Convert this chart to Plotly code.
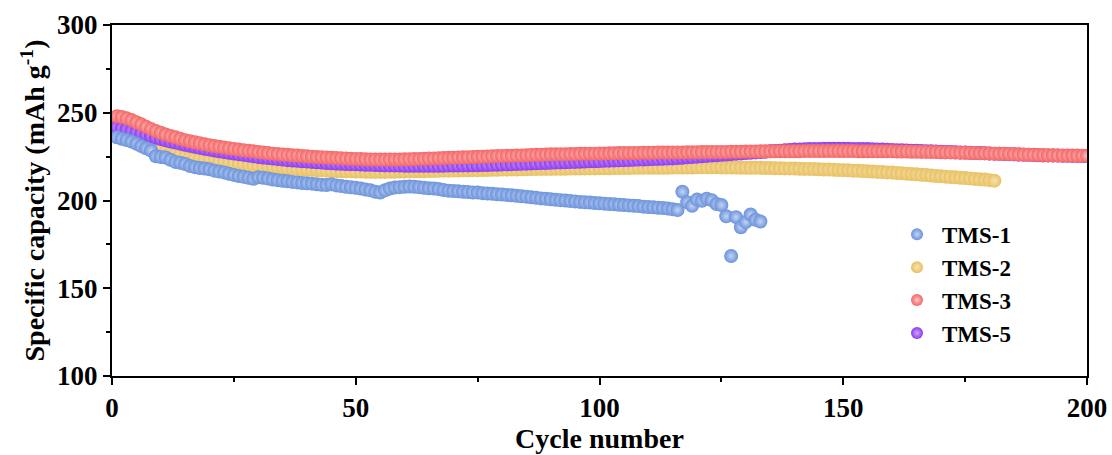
import plotly.graph_objects as go

# Specific capacity (mAh g^-1) per cycle for each sample
tms1_capacity = [
    236.0, 235.2, 234.5, 233.6, 232.4, 231.0, 229.8, 228.5, 225.2, 224.8,
    224.5, 223.2, 222.0, 221.5, 220.8, 219.6, 219.0, 218.5, 218.2, 217.8,
    217.0, 216.5, 216.0, 215.2, 214.6, 214.0, 213.5, 213.0, 212.4, 213.2,
    213.0, 212.5, 212.0, 211.6, 211.2, 211.0, 210.6, 210.3, 210.0, 209.8,
    209.6, 209.3, 209.0, 208.8, 209.2, 208.6, 208.2, 207.8, 207.5, 207.2,
    206.8, 206.3, 205.8, 205.0, 204.6, 205.8, 206.8, 207.4, 207.6, 207.8,
    208.0, 207.8, 207.6, 207.3, 207.0, 206.8, 206.5, 206.0, 205.6, 205.4,
    205.2, 205.0, 204.8, 204.6, 204.5, 204.2, 204.0, 203.8, 203.6, 203.4,
    203.2, 203.0, 202.7, 202.4, 202.2, 201.8, 201.5, 201.2, 201.0, 200.7,
    200.4, 200.2, 200.0, 199.7, 199.5, 199.2, 199.0, 198.8, 198.6, 198.4,
    198.2, 198.0, 197.8, 197.6, 197.4, 197.2, 197.0, 196.8, 196.5, 196.3,
    196.1, 195.9, 195.7, 195.4, 195.0, 194.6, 205.0, 199.0, 197.0, 200.5,
    199.8, 201.0, 200.2, 198.0, 197.4, 191.0, 168.4, 190.5, 184.8, 187.7,
    192.0, 189.0, 188.0,
]

tms2_capacity = [
    240.5, 239.0, 237.6, 236.2, 235.0, 233.8, 232.6, 231.4, 230.2, 229.2,
    228.3, 227.5, 226.8, 226.0, 225.4, 224.8, 224.3, 223.8, 223.4, 223.0,
    222.6, 222.2, 221.8, 221.5, 221.1, 220.8, 220.5, 220.2, 219.9, 219.7,
    219.4, 219.2, 219.0, 218.8, 218.6, 218.4, 218.2, 218.0, 217.8, 217.6,
    217.5, 217.3, 217.2, 217.0, 216.9, 216.8, 216.7, 216.6, 216.6, 216.5,
    216.5, 216.4, 216.4, 216.3, 216.3, 216.3, 216.4, 216.4, 216.5, 216.5,
    216.6, 216.6, 216.7, 216.7, 216.8, 216.8, 216.9, 217.0, 217.0, 217.1,
    217.1, 217.2, 217.2, 217.3, 217.3, 217.4, 217.4, 217.5, 217.5, 217.6,
    217.6, 217.7, 217.7, 217.8, 217.8, 217.9, 217.9, 218.0, 218.0, 218.0,
    218.1, 218.1, 218.1, 218.2, 218.2, 218.2, 218.3, 218.3, 218.3, 218.4,
    218.4, 218.4, 218.5, 218.5, 218.5, 218.5, 218.6, 218.6, 218.6, 218.6,
    218.7, 218.7, 218.7, 218.7, 218.8, 218.8, 218.8, 218.8, 218.8, 218.9,
    218.9, 218.9, 218.9, 218.9, 218.8, 218.8, 218.8, 218.8, 218.7, 218.7,
    218.7, 218.6, 218.6, 218.5, 218.5, 218.4, 218.4, 218.3, 218.3, 218.2,
    218.1, 218.0, 218.0, 217.9, 217.8, 217.7, 217.6, 217.5, 217.4, 217.3,
    217.2, 217.0, 216.9, 216.8, 216.6, 216.5, 216.3, 216.2, 216.0, 215.9,
    215.7, 215.5, 215.3, 215.1, 214.9, 214.7, 214.5, 214.2, 214.0, 213.8,
    213.6, 213.4, 213.2, 213.0, 212.8, 212.6, 212.3, 212.1, 211.9, 211.6,
    211.3,
]

tms3_capacity = [
    248.0, 247.6, 246.8, 245.8, 244.6, 243.4, 242.0, 240.8, 239.6, 238.6,
    237.6, 236.8, 236.0, 235.2, 234.4, 233.8, 233.2, 232.6, 232.0, 231.5,
    231.0, 230.6, 230.2, 229.8, 229.4, 229.0, 228.6, 228.3, 228.0, 227.6,
    227.3, 227.0, 226.7, 226.5, 226.2, 226.0, 225.8, 225.6, 225.4, 225.2,
    225.0, 224.8, 224.7, 224.5, 224.4, 224.2, 224.1, 224.0, 223.8, 223.7,
    223.6, 223.5, 223.4, 223.4, 223.3, 223.3, 223.3, 223.4, 223.4, 223.5,
    223.5, 223.6, 223.7, 223.8, 223.9, 224.0, 224.1, 224.2, 224.3, 224.4,
    224.5, 224.6, 224.7, 224.8, 224.9, 225.0, 225.1, 225.2, 225.3, 225.4,
    225.5, 225.5, 225.6, 225.7, 225.8, 225.9, 226.0, 226.1, 226.2, 226.3,
    226.3, 226.4, 226.4, 226.5, 226.5, 226.6, 226.6, 226.7, 226.7, 226.8,
    226.8, 226.9, 226.9, 227.0, 227.0, 227.1, 227.1, 227.1, 227.2, 227.2,
    227.2, 227.3, 227.3, 227.3, 227.4, 227.4, 227.4, 227.5, 227.5, 227.5,
    227.6, 227.6, 227.6, 227.7, 227.7, 227.7, 227.8, 227.8, 227.8, 227.9,
    227.9, 227.9, 228.0, 228.0, 228.0, 228.0, 228.1, 228.1, 228.1, 228.1,
    228.1, 228.2, 228.2, 228.2, 228.2, 228.2, 228.2, 228.2, 228.2, 228.2,
    228.2, 228.2, 228.1, 228.1, 228.1, 228.1, 228.1, 228.0, 228.0, 228.0,
    227.9, 227.9, 227.9, 227.8, 227.8, 227.7, 227.7, 227.6, 227.6, 227.5,
    227.4, 227.4, 227.3, 227.2, 227.2, 227.1, 227.0, 226.9, 226.9, 226.8,
    226.7, 226.6, 226.6, 226.5, 226.4, 226.3, 226.2, 226.1, 226.0, 225.9,
    225.9, 225.8, 225.8, 225.7, 225.7, 225.6, 225.6, 225.6, 225.5, 225.5,
]

tms5_capacity = [
    242.0, 241.4, 240.6, 239.8, 239.0, 238.2, 237.4, 236.6, 235.8, 235.0,
    234.3, 233.6, 233.0, 232.4, 231.8, 231.2, 230.6, 230.0, 229.5, 229.0,
    228.5, 228.0, 227.6, 227.2, 226.8, 226.4, 226.0, 225.6, 225.2, 224.8,
    224.5, 224.2, 223.9, 223.6, 223.3, 223.0, 222.8, 222.6, 222.4, 222.2,
    222.0, 221.8, 221.6, 221.4, 221.2, 221.0, 220.9, 220.8, 220.7, 220.6,
    220.5, 220.4, 220.3, 220.2, 220.1, 220.0, 220.0, 219.9, 219.9, 219.8,
    219.8, 219.8, 219.8, 219.8, 219.8, 219.8, 219.8, 219.8, 219.9, 219.9,
    219.9, 220.0, 220.0, 220.1, 220.1, 220.2, 220.2, 220.3, 220.4, 220.5,
    220.6, 220.7, 220.8, 220.9, 221.0, 221.1, 221.2, 221.3, 221.4, 221.5,
    221.6, 221.7, 221.8, 221.9, 222.0, 222.1, 222.2, 222.3, 222.4, 222.5,
    222.6, 222.7, 222.8, 222.9, 223.0, 223.1, 223.2, 223.3, 223.4, 223.5,
    223.6, 223.7, 223.8, 223.9, 224.0, 224.2, 224.4, 224.6, 224.8, 225.0,
    225.2, 225.4, 225.6, 225.8, 226.0, 226.2, 226.4, 226.6, 226.8, 227.0,
    227.2, 227.4, 227.6, 227.8, 228.0, 228.2, 228.4, 228.6, 228.8, 229.0,
    229.1, 229.2, 229.3, 229.4, 229.4, 229.5, 229.5, 229.5, 229.5, 229.5,
    229.5, 229.4, 229.4, 229.3, 229.3, 229.2, 229.1, 229.0, 228.9, 228.8,
    228.7, 228.6, 228.5, 228.4, 228.3, 228.2, 228.1, 228.0, 227.9, 227.8,
    227.7, 227.6, 227.5, 227.4, 227.3, 227.2, 227.1, 227.0, 226.9, 226.8,
    226.7, 226.6, 226.5, 226.4, 226.3, 226.2, 226.1, 226.0, 225.9, 225.8,
    225.7, 225.7, 225.6, 225.6, 225.5, 225.5, 225.4, 225.4, 225.3, 225.3,
]

series_names = ["TMS-1", "TMS-2", "TMS-3", "TMS-5"]
series_values = [tms1_capacity, tms2_capacity, tms3_capacity, tms5_capacity]
series_colors = ["#6A92DC", "#E9C060", "#F56464", "#9038F0"]
series_highlights = ["#C4D4F2", "#F6E4B4", "#FBC4C4", "#CBA8F8"]

# drawing order: yellow and purple under red, blue separate
draw_order = [1, 3, 0, 2]

x_ticks = [0, 50, 100, 150, 200]
y_ticks = [100, 150, 200, 250, 300]

FONT = "Liberation Serif"

fig = go.Figure()
for i in draw_order:
    vals = series_values[i]
    cycles = list(range(1, len(vals) + 1))
    fig.add_trace(go.Scatter(
        x=cycles,
        y=vals,
        mode="markers",
        name=series_names[i],
        marker=dict(
            size=14,
            color=series_colors[i],
            line=dict(width=0),
            gradient=dict(type="radial", color=series_highlights[i]),
        ),
        legendrank=i + 1,
    ))

axis_common = dict(
    showline=True,
    linecolor="black",
    linewidth=2,
    mirror=True,
    ticks="outside",
    ticklen=7,
    tickwidth=2,
    tickcolor="black",
    showgrid=False,
    zeroline=False,
    automargin=False,
    tickfont=dict(family=FONT, size=27, color="black", weight="bold"),
)

fig.update_xaxes(
    range=[0, 200],
    tickvals=x_ticks,
    minor=dict(ticks="outside", ticklen=4, tickwidth=2, dtick=25, tick0=0, tickcolor="black"),
    title=dict(text="Cycle number", font=dict(family=FONT, size=28, color="black", weight="bold"), standoff=4),
    **axis_common,
)
fig.update_yaxes(
    range=[100, 300],
    tickvals=y_ticks,
    minor=dict(ticks="outside", ticklen=4, tickwidth=2, dtick=25, tick0=100, tickcolor="black"),
    title=dict(text="Specific capacity (mAh g<sup>-1</sup>)", font=dict(family=FONT, size=28, color="black", weight="bold"), standoff=4),
    **axis_common,
)

fig.update_layout(
    width=1112,
    height=455,
    margin=dict(l=112, r=25, t=25, b=79),
    plot_bgcolor="white",
    paper_bgcolor="white",
    legend=dict(
        x=0.8,
        y=0.465,
        xanchor="left",
        yanchor="top",
        bgcolor="rgba(0,0,0,0)",
        font=dict(family=FONT, size=23, color="black", weight="bold"),
        itemsizing="constant",
        itemwidth=40,
        tracegroupgap=0,
    ),
)

fig.write_html("out.html")
